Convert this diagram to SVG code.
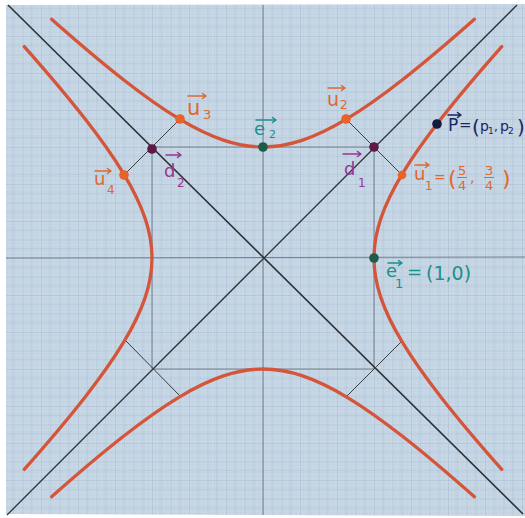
<svg xmlns="http://www.w3.org/2000/svg" width="525" height="518" viewBox="0 0 525 518">
<defs>
<pattern id="grid" patternUnits="userSpaceOnUse" x="4" y="17.5" width="18.5" height="18.5">
<rect width="18.5" height="18.5" fill="#c8d8e6"/>
<path d="M3.7,0V18.5M7.4,0V18.5M11.1,0V18.5M14.8,0V18.5M0,3.7H18.5M0,7.4H18.5M0,11.1H18.5M0,14.8H18.5" stroke="#b9cbdc" stroke-width="0.4"/>
<path d="M9.25,0V18.5M0,9.25H18.5" stroke="#adc1d5" stroke-width="0.6"/>
<path d="M0,0V18.5M0,0H18.5" stroke="#9fb4ca" stroke-width="0.8"/>
</pattern>
<path id="branch" d="M238.75,211.38 C214.09,183.53 194.26,159.95 178.02,139.18 C161.78,118.41 149.14,100.45 139.32,84.2 C129.5,67.95 122.5,53.4 117.87,39.65 C113.24,25.9 111,12.95 111,0 C111,-12.95 113.24,-25.9 117.87,-39.65 C122.5,-53.4 129.5,-67.95 139.32,-84.2 C149.14,-100.45 161.78,-118.41 178.02,-139.18 C194.26,-159.95 214.09,-183.53 238.75,-211.38"/>
</defs>
<style>
.curve{fill:none;stroke:#d4553a;stroke-width:3.3;stroke-linecap:round}
.pencil{stroke:#3a3d42;stroke-width:1;fill:none}
.asym{stroke:#2e3135;stroke-width:1.6;fill:none}
.axis{stroke:#6c7684;stroke-width:0.9;fill:none}
.lab{font-family:"DejaVu Sans",sans-serif}
.vec{fill:none;stroke-width:1.5;stroke-linecap:round;stroke-linejoin:round}
.or{fill:#e0682e}
.orS{stroke:#e0682e}
.pu{fill:#9a3592}
.puS{stroke:#9a3592}
.te{fill:#1d8f8c}
.teS{stroke:#1d8f8c}
.nv{fill:#1e2462}
.nvS{stroke:#1e2462}
</style>
<rect width="525" height="518" fill="#ffffff"/>
<polygon points="6,5 525,4 525,516 6,514" fill="url(#grid)"/>

<g id="connectors">
<line class="axis" x1="6" y1="258" x2="525" y2="257"/>
<line class="axis" x1="263" y1="5" x2="263" y2="515"/>
<path class="axis" d="M152,147 H374 V369 H152 Z"/>
<line class="asym" x1="8" y1="5" x2="523" y2="514"/>
<line class="asym" x1="7" y1="515" x2="517" y2="5" style="stroke-width:1.3"/>
<line class="pencil" x1="346" y1="119" x2="402" y2="175"/>
<line class="pencil" x1="180" y1="119" x2="124" y2="175"/>
<line class="pencil" x1="126" y1="341" x2="181" y2="397"/>
<line class="pencil" x1="346" y1="397" x2="402" y2="341"/>
</g>

<g id="hyperbolas">
<use href="#branch" class="curve" transform="translate(263,258)"/>
<use href="#branch" class="curve" transform="translate(263,258) scale(-1,1)"/>
<use href="#branch" class="curve" transform="translate(263,258) rotate(-90)"/>
<use href="#branch" class="curve" transform="translate(263,258) rotate(90)"/>
</g>

<g id="u1">
<circle cx="402" cy="175" r="4.3" fill="#e8622a"/>
<path class="vec orS" d="M415,165H429M425.5,162.5L429,165L425.5,167.5"/>
<text class="lab or" x="414" y="180" font-size="18">u</text>
<text class="lab or" x="425" y="190" font-size="12">1</text>
<text class="lab or" x="434" y="182" font-size="14">=</text>
<text class="lab or" x="448" y="186" font-size="22">(</text>
<text class="lab or" x="458" y="175" font-size="13">5</text>
<line class="orS" x1="457" y1="177.5" x2="467" y2="177.5" stroke-width="1"/>
<text class="lab or" x="458" y="190" font-size="13">4</text>
<text class="lab or" x="470" y="182" font-size="14">,</text>
<text class="lab or" x="485" y="175" font-size="13">3</text>
<line class="orS" x1="484" y1="177.5" x2="494" y2="177.5" stroke-width="1"/>
<text class="lab or" x="485" y="190" font-size="13">4</text>
<text class="lab or" x="502" y="186" font-size="22">)</text>
</g>

<g id="u2">
<circle cx="346" cy="119" r="4.8" fill="#e8622a"/>
<path class="vec orS" d="M328,88H345M341.5,85.5L345,88L341.5,90.5"/>
<text class="lab or" x="327" y="106" font-size="19">u</text>
<text class="lab or" x="340" y="109" font-size="12">2</text>
</g>

<g id="u3">
<circle cx="180" cy="119" r="4.8" fill="#e8622a"/>
<path class="vec orS" d="M188,96H206M202.5,93.5L206,96L202.5,98.5"/>
<text class="lab or" x="187" y="115" font-size="21">u</text>
<text class="lab or" x="203" y="119" font-size="13">3</text>
</g>

<g id="u4">
<circle cx="124" cy="175" r="4.8" fill="#e8622a"/>
<path class="vec orS" d="M95,171H111M107.5,168.5L111,171L107.5,173.5"/>
<text class="lab or" x="94" y="185" font-size="18">u</text>
<text class="lab or" x="107" y="194" font-size="12">4</text>
</g>

<g id="d1">
<circle cx="374" cy="147" r="4.8" fill="#5e1a45"/>
<path class="vec puS" d="M343,154H361M357.5,151.5L361,154L357.5,156.5"/>
<text class="lab pu" x="344" y="175" font-size="18">d</text>
<text class="lab pu" x="358" y="187" font-size="12">1</text>
</g>

<g id="d2">
<circle cx="152" cy="149" r="4.8" fill="#5e1a45"/>
<path class="vec puS" d="M166,155H181M177.5,152.5L181,155L177.5,157.5"/>
<text class="lab pu" x="164" y="177" font-size="18">d</text>
<text class="lab pu" x="177" y="187" font-size="12">2</text>
</g>

<g id="e2">
<circle cx="263" cy="147" r="4.8" fill="#1d5c4a"/>
<path class="vec teS" d="M256,120H276M272.5,117.5L276,120L272.5,122.5"/>
<text class="lab te" x="254" y="135" font-size="18">e</text>
<text class="lab te" x="269" y="138" font-size="11">2</text>
</g>

<g id="e1">
<circle cx="374" cy="258" r="4.8" fill="#1d5c4a"/>
<path class="vec teS" d="M388,263H402M398.5,260.5L402,263L398.5,265.5"/>
<text class="lab te" x="386" y="277" font-size="18">e</text>
<text class="lab te" x="395" y="288" font-size="13">1</text>
<text class="lab te" x="407" y="278" font-size="18">=</text>
<text class="lab te" x="426" y="280" font-size="19">(1,0)</text>
</g>

<g id="P">
<circle cx="437" cy="124" r="4.8" fill="#141a3c"/>
<path class="vec nvS" d="M448,115H461M457.5,112.5L461,115L457.5,117.5"/>
<text class="lab nv" x="448" y="131" font-size="17">P</text>
<text class="lab nv" x="459" y="130" font-size="15">=</text>
<text class="lab nv" x="472" y="134" font-size="20">(</text>
<text class="lab nv" x="480" y="131" font-size="14">p</text>
<text class="lab nv" x="488" y="134" font-size="9">1</text>
<text class="lab nv" x="494" y="131" font-size="12">,</text>
<text class="lab nv" x="500" y="131" font-size="14">p</text>
<text class="lab nv" x="508" y="134" font-size="9">2</text>
<text class="lab nv" x="517" y="134" font-size="20">)</text>
</g>
</svg>
